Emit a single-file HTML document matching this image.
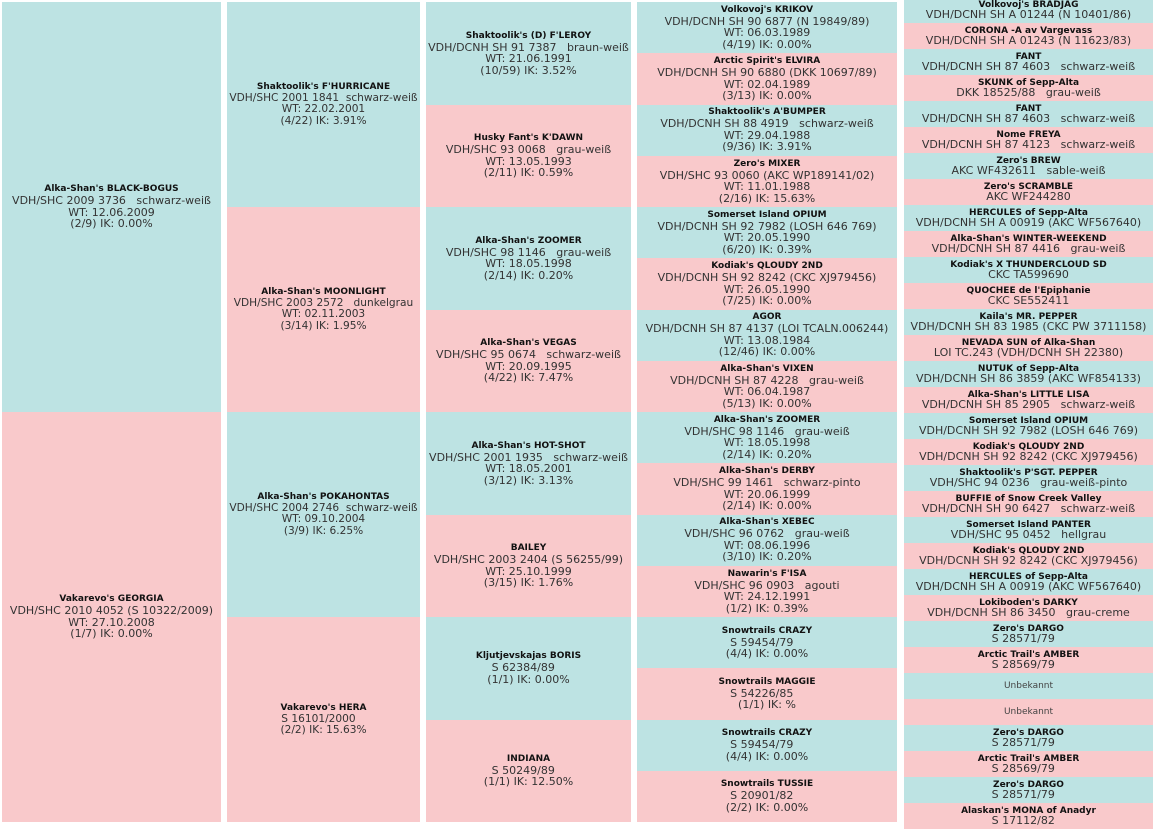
<!DOCTYPE html>
<html><head><meta charset="utf-8"><style>
body{margin:0;width:1155px;height:831px;background:#fff;overflow:hidden;font-family:"DejaVu Sans","Liberation Sans",sans-serif;color:#333;}
.col{position:absolute;display:flex;flex-direction:column;}
.c{flex:1;display:flex;flex-direction:column;justify-content:center;align-items:center;text-align:center;font-size:11px;line-height:11.5px;white-space:nowrap;overflow:hidden;}
.c b{font-size:9px;line-height:11px;color:#111;}
.t{background:#bde3e3}.p{background:#f9c9cb}
.s .c{line-height:10.5px}.s .c b{line-height:10px}
.u{font-size:9px;color:#444}
.n .c{font-size:10.6px}
</style></head><body>
<div class="col" style="left:2px;top:2px;width:219px;height:820px">
<div class="c t"><b>Alka-Shan's BLACK-BOGUS</b>VDH/SHC 2009 3736&nbsp;&nbsp; schwarz-weiß<br>WT: 12.06.2009<br>(2/9) IK: 0.00%</div>
<div class="c p"><b>Vakarevo's GEORGIA</b>VDH/SHC 2010 4052 (S 10322/2009)<br>WT: 27.10.2008<br>(1/7) IK: 0.00%</div>
</div>
<div class="col n" style="left:227px;top:2px;width:193px;height:820px">
<div class="c t"><b>Shaktoolik's F'HURRICANE</b>VDH/SHC 2001 1841&nbsp; schwarz-weiß<br>WT: 22.02.2001<br>(4/22) IK: 3.91%</div>
<div class="c p"><b>Alka-Shan's MOONLIGHT</b>VDH/SHC 2003 2572&nbsp;&nbsp; dunkelgrau<br>WT: 02.11.2003<br>(3/14) IK: 1.95%</div>
<div class="c t"><b>Alka-Shan's POKAHONTAS</b>VDH/SHC 2004 2746&nbsp; schwarz-weiß<br>WT: 09.10.2004<br>(3/9) IK: 6.25%</div>
<div class="c p"><b>Vakarevo's HERA</b>S 16101/2000&nbsp;&nbsp;&nbsp;<br>(2/2) IK: 15.63%</div>
</div>
<div class="col" style="left:426px;top:2px;width:205px;height:820px">
<div class="c t"><b>Shaktoolik's (D) F'LEROY</b>VDH/DCNH SH 91 7387&nbsp;&nbsp; braun-weiß<br>WT: 21.06.1991<br>(10/59) IK: 3.52%</div>
<div class="c p"><b>Husky Fant's K'DAWN</b>VDH/SHC 93 0068&nbsp;&nbsp; grau-weiß<br>WT: 13.05.1993<br>(2/11) IK: 0.59%</div>
<div class="c t"><b>Alka-Shan's ZOOMER</b>VDH/SHC 98 1146&nbsp;&nbsp; grau-weiß<br>WT: 18.05.1998<br>(2/14) IK: 0.20%</div>
<div class="c p"><b>Alka-Shan's VEGAS</b>VDH/SHC 95 0674&nbsp;&nbsp; schwarz-weiß<br>WT: 20.09.1995<br>(4/22) IK: 7.47%</div>
<div class="c t"><b>Alka-Shan's HOT-SHOT</b>VDH/SHC 2001 1935&nbsp;&nbsp; schwarz-weiß<br>WT: 18.05.2001<br>(3/12) IK: 3.13%</div>
<div class="c p"><b>BAILEY</b>VDH/SHC 2003 2404 (S 56255/99)<br>WT: 25.10.1999<br>(3/15) IK: 1.76%</div>
<div class="c t"><b>Kljutjevskajas BORIS</b>S 62384/89&nbsp;&nbsp;&nbsp;<br>(1/1) IK: 0.00%</div>
<div class="c p"><b>INDIANA</b>S 50249/89&nbsp;&nbsp;&nbsp;<br>(1/1) IK: 12.50%</div>
</div>
<div class="col" style="left:637px;top:2px;width:260px;height:820px">
<div class="c t"><b>Volkovoj's KRIKOV</b>VDH/DCNH SH 90 6877 (N 19849/89)<br>WT: 06.03.1989<br>(4/19) IK: 0.00%</div>
<div class="c p"><b>Arctic Spirit's ELVIRA</b>VDH/DCNH SH 90 6880 (DKK 10697/89)<br>WT: 02.04.1989<br>(3/13) IK: 0.00%</div>
<div class="c t"><b>Shaktoolik's A'BUMPER</b>VDH/DCNH SH 88 4919&nbsp;&nbsp; schwarz-weiß<br>WT: 29.04.1988<br>(9/36) IK: 3.91%</div>
<div class="c p"><b>Zero's MIXER</b>VDH/SHC 93 0060 (AKC WP189141/02)<br>WT: 11.01.1988<br>(2/16) IK: 15.63%</div>
<div class="c t"><b>Somerset Island OPIUM</b>VDH/DCNH SH 92 7982 (LOSH 646 769)<br>WT: 20.05.1990<br>(6/20) IK: 0.39%</div>
<div class="c p"><b>Kodiak's QLOUDY 2ND</b>VDH/DCNH SH 92 8242 (CKC XJ979456)<br>WT: 26.05.1990<br>(7/25) IK: 0.00%</div>
<div class="c t"><b>AGOR</b>VDH/DCNH SH 87 4137 (LOI TCALN.006244)<br>WT: 13.08.1984<br>(12/46) IK: 0.00%</div>
<div class="c p"><b>Alka-Shan's VIXEN</b>VDH/DCNH SH 87 4228&nbsp;&nbsp; grau-weiß<br>WT: 06.04.1987<br>(5/13) IK: 0.00%</div>
<div class="c t"><b>Alka-Shan's ZOOMER</b>VDH/SHC 98 1146&nbsp;&nbsp; grau-weiß<br>WT: 18.05.1998<br>(2/14) IK: 0.20%</div>
<div class="c p"><b>Alka-Shan's DERBY</b>VDH/SHC 99 1461&nbsp;&nbsp; schwarz-pinto<br>WT: 20.06.1999<br>(2/14) IK: 0.00%</div>
<div class="c t"><b>Alka-Shan's XEBEC</b>VDH/SHC 96 0762&nbsp;&nbsp; grau-weiß<br>WT: 08.06.1996<br>(3/10) IK: 0.20%</div>
<div class="c p"><b>Nawarin's F'ISA</b>VDH/SHC 96 0903&nbsp;&nbsp; agouti<br>WT: 24.12.1991<br>(1/2) IK: 0.39%</div>
<div class="c t"><b>Snowtrails CRAZY</b>S 59454/79&nbsp;&nbsp;&nbsp;<br>(4/4) IK: 0.00%</div>
<div class="c p"><b>Snowtrails MAGGIE</b>S 54226/85&nbsp;&nbsp;&nbsp;<br>(1/1) IK: %</div>
<div class="c t"><b>Snowtrails CRAZY</b>S 59454/79&nbsp;&nbsp;&nbsp;<br>(4/4) IK: 0.00%</div>
<div class="c p"><b>Snowtrails TUSSIE</b>S 20901/82&nbsp;&nbsp;&nbsp;<br>(2/2) IK: 0.00%</div>
</div>
<div class="col s" style="left:904px;top:-3px;width:249px;height:832px">
<div class="c t"><b>Volkovoj's BRADJAG</b>VDH/DCNH SH A 01244 (N 10401/86)</div>
<div class="c p"><b>CORONA -A av Vargevass</b>VDH/DCNH SH A 01243 (N 11623/83)</div>
<div class="c t"><b>FANT</b>VDH/DCNH SH 87 4603&nbsp;&nbsp; schwarz-weiß</div>
<div class="c p"><b>SKUNK of Sepp-Alta</b>DKK 18525/88&nbsp;&nbsp; grau-weiß</div>
<div class="c t"><b>FANT</b>VDH/DCNH SH 87 4603&nbsp;&nbsp; schwarz-weiß</div>
<div class="c p"><b>Nome FREYA</b>VDH/DCNH SH 87 4123&nbsp;&nbsp; schwarz-weiß</div>
<div class="c t"><b>Zero's BREW</b>AKC WF432611&nbsp;&nbsp; sable-weiß</div>
<div class="c p"><b>Zero's SCRAMBLE</b>AKC WF244280</div>
<div class="c t"><b>HERCULES of Sepp-Alta</b>VDH/DCNH SH A 00919 (AKC WF567640)</div>
<div class="c p"><b>Alka-Shan's WINTER-WEEKEND</b>VDH/DCNH SH 87 4416&nbsp;&nbsp; grau-weiß</div>
<div class="c t"><b>Kodiak's X THUNDERCLOUD SD</b>CKC TA599690</div>
<div class="c p"><b>QUOCHEE de l'Epiphanie</b>CKC SE552411</div>
<div class="c t"><b>Kaila's MR. PEPPER</b>VDH/DCNH SH 83 1985 (CKC PW 3711158)</div>
<div class="c p"><b>NEVADA SUN of Alka-Shan</b>LOI TC.243 (VDH/DCNH SH 22380)</div>
<div class="c t"><b>NUTUK of Sepp-Alta</b>VDH/DCNH SH 86 3859 (AKC WF854133)</div>
<div class="c p"><b>Alka-Shan's LITTLE LISA</b>VDH/DCNH SH 85 2905&nbsp;&nbsp; schwarz-weiß</div>
<div class="c t"><b>Somerset Island OPIUM</b>VDH/DCNH SH 92 7982 (LOSH 646 769)</div>
<div class="c p"><b>Kodiak's QLOUDY 2ND</b>VDH/DCNH SH 92 8242 (CKC XJ979456)</div>
<div class="c t"><b>Shaktoolik's P'SGT. PEPPER</b>VDH/SHC 94 0236&nbsp;&nbsp; grau-weiß-pinto</div>
<div class="c p"><b>BUFFIE of Snow Creek Valley</b>VDH/DCNH SH 90 6427&nbsp;&nbsp; schwarz-weiß</div>
<div class="c t"><b>Somerset Island PANTER</b>VDH/SHC 95 0452&nbsp;&nbsp; hellgrau</div>
<div class="c p"><b>Kodiak's QLOUDY 2ND</b>VDH/DCNH SH 92 8242 (CKC XJ979456)</div>
<div class="c t"><b>HERCULES of Sepp-Alta</b>VDH/DCNH SH A 00919 (AKC WF567640)</div>
<div class="c p"><b>Lokiboden's DARKY</b>VDH/DCNH SH 86 3450&nbsp;&nbsp; grau-creme</div>
<div class="c t"><b>Zero's DARGO</b>S 28571/79&nbsp;&nbsp;&nbsp;</div>
<div class="c p"><b>Arctic Trail's AMBER</b>S 28569/79&nbsp;&nbsp;&nbsp;</div>
<div class="c t"><span class="u">Unbekannt</span></div>
<div class="c p"><span class="u">Unbekannt</span></div>
<div class="c t"><b>Zero's DARGO</b>S 28571/79&nbsp;&nbsp;&nbsp;</div>
<div class="c p"><b>Arctic Trail's AMBER</b>S 28569/79&nbsp;&nbsp;&nbsp;</div>
<div class="c t"><b>Zero's DARGO</b>S 28571/79&nbsp;&nbsp;&nbsp;</div>
<div class="c p"><b>Alaskan's MONA of Anadyr</b>S 17112/82&nbsp;&nbsp;&nbsp;</div>
</div>
</body></html>
